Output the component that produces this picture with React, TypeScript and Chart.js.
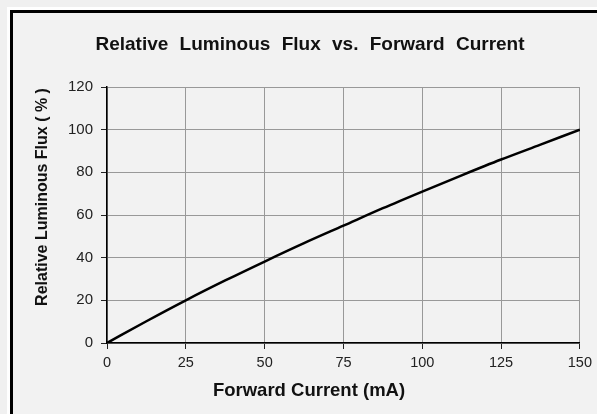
import React, { useEffect, useRef } from 'react';
import { Chart, registerables } from 'chart.js';

Chart.register(...registerables);

// ---- data ----
const currentMA = [0, 12.5, 25, 37.5, 50, 62.5, 75, 87.5, 100, 112.5, 125, 137.5, 150];
const relativeFlux = [0, 10.2, 20, 29.3, 38.2, 46.8, 55, 63.2, 71, 78.6, 86, 93, 100];
const xTicks = [0, 25, 50, 75, 100, 125, 150];
const yTicks = [0, 20, 40, 60, 80, 100, 120];
const chartTitle = 'Relative Luminous Flux vs. Forward Current';
const xAxisTitle = 'Forward Current (mA)';
const yAxisTitle = 'Relative Luminous Flux ( % )';

const FONT = '"Liberation Sans", Arial, Helvetica, sans-serif';

const titlesPlugin = {
  id: 'frameTitles',
  afterDraw(chart: any) {
    const ctx: CanvasRenderingContext2D = chart.ctx;
    ctx.save();
    ctx.fillStyle = '#111';
    ctx.textAlign = 'center';
    ctx.textBaseline = 'alphabetic';
    ctx.font = `bold 19px ${FONT}`;
    (ctx as any).wordSpacing = '6px';
    ctx.fillText(chartTitle, 310, 50);
    (ctx as any).wordSpacing = '0px';
    ctx.font = `bold 18.5px ${FONT}`;
    ctx.fillText(xAxisTitle, 309, 396);
    ctx.font = `bold 16px ${FONT}`;
    ctx.translate(46.5, 197);
    ctx.rotate(-Math.PI / 2);
    ctx.fillText(yAxisTitle, 0, 0);
    ctx.restore();
  },
};

export default function App() {
  const canvasRef = useRef<HTMLCanvasElement | null>(null);

  useEffect(() => {
    if (!canvasRef.current) return;
    const chart = new Chart(canvasRef.current, {
      type: 'line',
      data: {
        datasets: [
          {
            label: 'Relative Luminous Flux',
            data: currentMA.map((x, i) => ({ x, y: relativeFlux[i] })),
            borderColor: '#000',
            borderWidth: 2.5,
            pointRadius: 0,
            fill: false,
            cubicInterpolationMode: 'monotone',
          },
        ],
      },
      options: {
        animation: false,
        responsive: false,
        maintainAspectRatio: false,
        devicePixelRatio: 1,
        layout: { padding: { left: 0, right: 17, top: 87, bottom: 0 } },
        plugins: {
          legend: { display: false },
          title: { display: false },
          tooltip: { enabled: false },
        },
        scales: {
          x: {
            type: 'linear',
            min: xTicks[0],
            max: xTicks[xTicks.length - 1],
            afterBuildTicks: (s: any) => {
              s.ticks = xTicks.map((v) => ({ value: v }));
            },
            afterFit: (s: any) => {
              s.height = 71;
            },
            grid: { color: '#999999', lineWidth: 1, tickLength: 6, tickColor: '#222' },
            border: { color: '#000', width: 1.5 },
            ticks: {
              color: '#222',
              font: { family: FONT, size: 14.5 },
              padding: 5,
              maxRotation: 0,
            },
          },
          y: {
            type: 'linear',
            min: yTicks[0],
            max: yTicks[yTicks.length - 1],
            afterBuildTicks: (s: any) => {
              s.ticks = yTicks.map((v) => ({ value: v }));
            },
            afterFit: (s: any) => {
              s.width = 107;
            },
            grid: { color: '#999999', lineWidth: 1, tickLength: 6, tickColor: '#222' },
            border: { color: '#000', width: 1.5 },
            ticks: {
              color: '#222',
              font: { family: FONT, size: 15 },
              padding: 8,
            },
          },
        },
      },
      plugins: [titlesPlugin],
    });
    return () => chart.destroy();
  }, []);

  return (
    <div
      style={{
        position: 'fixed',
        left: 0,
        top: 0,
        width: 597,
        height: 414,
        overflow: 'hidden',
        background: '#f0f0f0',
      }}
    >
      <div
        style={{
          position: 'absolute',
          left: 7,
          top: 7,
          width: 700,
          height: 500,
          background: '#ffffff',
        }}
      />
      <div
        style={{
          position: 'absolute',
          left: 10,
          top: 10,
          width: 700,
          height: 500,
          background: '#f2f2f2',
          borderTop: '3px solid #000',
          borderLeft: '3px solid #000',
        }}
      />
      <canvas
        ref={canvasRef}
        width={597}
        height={414}
        style={{ position: 'absolute', left: 0, top: 0, width: 597, height: 414 }}
      />
    </div>
  );
}
